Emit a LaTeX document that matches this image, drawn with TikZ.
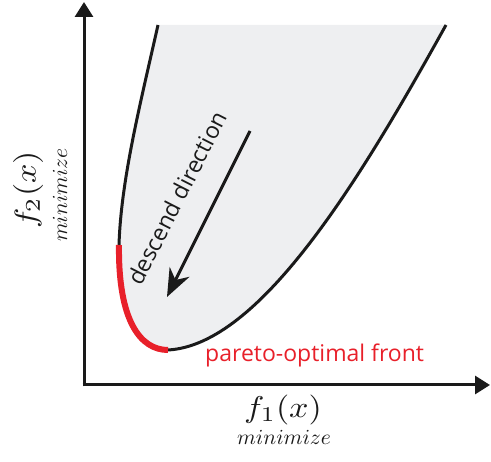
\documentclass[tikz,border=0pt]{standalone}
\usepackage{amsmath}
\usepackage{fontspec}
\setsansfont{Open Sans}
\usetikzlibrary{arrows.meta}
\definecolor{regiongray}{HTML}{EEEFF1}
\definecolor{paretored}{HTML}{E8202A}
\definecolor{inkblack}{HTML}{1A1A1A}
\tikzset{
  axisline/.style={line width=3pt, draw=inkblack, -{Triangle[length=15pt,width=18pt]}},
  boundary/.style={line width=3pt, draw=inkblack},
  paretoline/.style={line width=6pt, draw=paretored},
  labeltext/.style={inner sep=0pt, text=inkblack},
  mainlabel/.style={labeltext, xscale=3.4, yscale=3.0},
  sublabel/.style={labeltext, scale=2.15},
}
\begin{document}
\begin{tikzpicture}[x=1pt,y=-1pt]
\useasboundingbox (0,0) rectangle (491,462);
% coordinates
\coordinate (origin) at (84,385);
\coordinate (ytip) at (84,2);
\coordinate (xtip) at (490,385);
\coordinate (lt) at (158,25);
\coordinate (rt) at (446,25);
\coordinate (pa) at (119,245);
\coordinate (pb) at (168,350);
\coordinate (as) at (250,131);
\coordinate (ae) at (167,297);
% region
\fill[regiongray] (lt) .. controls (140,105) and (121,180) .. (pa)
  .. controls (118,320) and (140,350) .. (pb)
  .. controls (260,345) and (360,180) .. (rt) -- cycle;
\draw[boundary] (lt) .. controls (140,105) and (121,180) .. (pa);
\draw[boundary] (pb) .. controls (260,345) and (360,180) .. (rt);
\draw[paretoline] (pa) .. controls (118,320) and (140,350) .. (pb);
% axes
\draw[axisline] (84,386.5) -- (ytip);
\draw[axisline] (82.5,385) -- (xtip);
% arrow
\draw[line width=3pt, draw=inkblack, -{Stealth[length=28pt,width=22pt,inset=9pt]}] (as) -- (ae);
\node[labeltext, rotate=63, font=\sffamily\fontsize{23}{26}\selectfont] (dd) at (177,198) {descend direction};
\node[labeltext, text=paretored, anchor=west, font=\sffamily\fontsize{23}{27}\selectfont] (pf) at (205,355) {pareto-optimal front};
\node[mainlabel] (fx1) at (283,410) {$f_1(x)$};
\node[sublabel] (mn1) at (284,437) {$minimize$};
\node[labeltext, rotate=90, xscale=3.4, yscale=3.0] (fx2) at (28,190) {$f_2(x)$};
\node[sublabel, rotate=90] (mn2) at (60,195) {$minimize$};
\end{tikzpicture}
\end{document}
